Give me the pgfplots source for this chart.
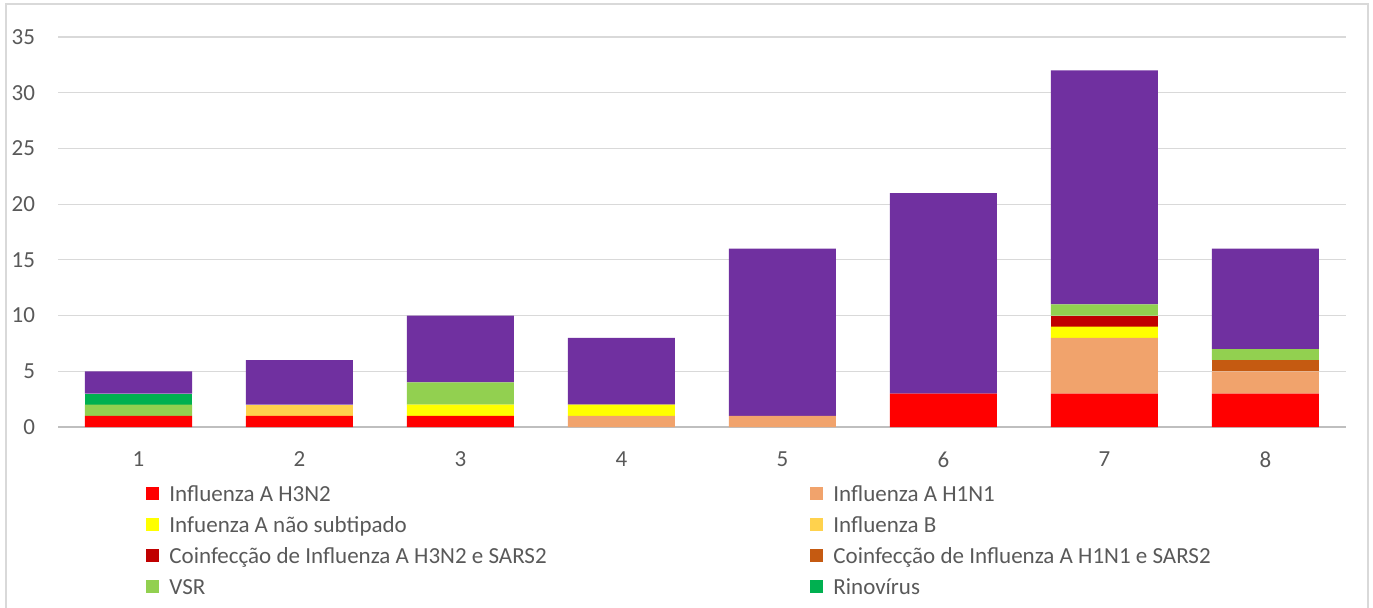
\documentclass[border=0pt]{standalone}
\usepackage{fontspec}
\setmainfont{Carlito}
\usepackage{pgfplots}
\usepackage{pgfplotstable}
\pgfplotsset{compat=1.18}
\definecolor{cH3}{HTML}{FF0000}
\definecolor{cH1}{HTML}{F1A36C}
\definecolor{cNS}{HTML}{FFFF00}
\definecolor{cB}{HTML}{FFD24D}
\definecolor{cCo3}{HTML}{C00000}
\definecolor{cCo1}{HTML}{C55A11}
\definecolor{cVSR}{HTML}{92D050}
\definecolor{cRino}{HTML}{00B050}
\definecolor{cSars}{HTML}{7030A0}
\definecolor{txt}{HTML}{595959}
\definecolor{gridc}{HTML}{D9D9D9}
\definecolor{axl}{HTML}{BFBFBF}
\pgfplotstableread{
x H3 H1 NS B Co3 Co1 VSR Rino Sars
1 1 0 0 0 0 0 1 1 2
2 1 0 0 1 0 0 0 0 4
3 1 0 1 0 0 0 2 0 6
4 0 1 1 0 0 0 0 0 6
5 0 1 0 0 0 0 0 0 15
6 3 0 0 0 0 0 0 0 18
7 3 5 1 0 1 0 1 0 21
8 3 2 0 0 0 1 1 0 9
}\data
\newcommand{\lt}[1]{\makebox[320.5pt][l]{\strut #1}}
\newcommand{\lr}[1]{\strut #1}
\begin{document}
\fontsize{11.5pt}{14pt}\selectfont
\begin{tikzpicture}[x=1pt,y=1pt]
\useasboundingbox (0,0) rectangle (686.5,303.5);
\draw[gridc, line width=1pt] (2.75,-5) -- (2.75,301.5) -- (684,301.5) -- (684,-5);
\begin{axis}[
 at={(29pt,90pt)}, anchor=south west,
 scale only axis, width=644pt, height=195pt,
 ybar stacked, bar width=53.5pt,
 xmin=0.5, xmax=8.5, ymin=0, ymax=35,
 xtick={1,...,8}, ytick={0,5,...,35},
 major tick length=0pt,
 axis x line*=bottom, axis y line*=left,
 x axis line style={axl, line width=1pt, -},
 y axis line style={draw=none},
 xmajorgrids=false, ymajorgrids=true,
 grid style={gridc, line width=0.6pt},
 /pgf/number format/assume math mode=true,
 ticklabel style={font=\fontsize{11.5pt}{14pt}\selectfont, text=txt},
 yticklabel style={xshift=-7.5pt},
 xticklabel style={yshift=-8.5pt},
 every axis plot/.append style={draw=none},
 legend columns=2,
 legend cell align=left,
 legend style={at={(0.0637,-0.13)}, anchor=north west, draw=none, fill=none,
   font=\fontsize{11.5pt}{14pt}\selectfont, text=txt,
   nodes={inner sep=0pt}, row sep=4pt,
   /tikz/every odd column/.append style={column sep=5pt}},
 legend image code/.code={\fill[#1] (0pt,-3.25pt) rectangle (6.5pt,3.25pt);},
]
\addplot[fill=cH3] table[x=x,y=H3] {\data};
\addplot[fill=cH1] table[x=x,y=H1] {\data};
\addplot[fill=cNS] table[x=x,y=NS] {\data};
\addplot[fill=cB] table[x=x,y=B] {\data};
\addplot[fill=cCo3] table[x=x,y=Co3] {\data};
\addplot[fill=cCo1] table[x=x,y=Co1] {\data};
\addplot[fill=cVSR] table[x=x,y=VSR] {\data};
\addplot[fill=cRino] table[x=x,y=Rino] {\data};
\addplot[fill=cSars] table[x=x,y=Sars] {\data};
\legend{\lt{Influenza A H3N2}, \lr{Influenza A H1N1},
 \lt{Infuenza A não subtipado}, \lr{Influenza B},
 \lt{Coinfecção de Influenza A H3N2 e SARS2}, \lr{Coinfecção de Influenza A H1N1 e SARS2},
 \lt{VSR}, \lr{Rinovírus}}
\end{axis}
\end{tikzpicture}
\end{document}
